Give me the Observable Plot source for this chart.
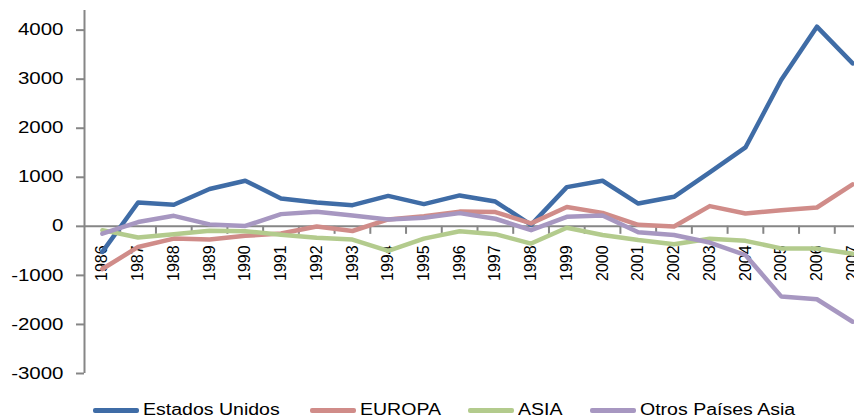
<!DOCTYPE html>
<html>
<head>
<meta charset="utf-8">
<script src="https://cdn.jsdelivr.net/npm/d3@7"></script>
<script src="https://cdn.jsdelivr.net/npm/@observablehq/plot@0.6"></script>
<style>
  html, body { margin: 0; padding: 0; background: #fff; overflow: hidden; }
  body { width: 854px; height: 418px; font-family: "Liberation Sans", Arial, sans-serif; }
  #chart svg { display: block; }
  #legend { position: relative; height: 18px; }
  .item { position: absolute; top: 0; height: 18px; }
  .sw { position: absolute; top: 8px; left: 0; width: 46px; height: 4.5px; border-radius: 2px; }
  .lbl { position: absolute; left: 50px; top: 1px; font-size: 16px; line-height: 18px; white-space: nowrap; color: #000; transform-origin: left center; transform: scaleX(1.22); }
</style>
</head>
<body>
<div id="chart"></div>
<div id="legend"></div>
<script>
const years = [1986, 1987, 1988, 1989, 1990, 1991, 1992, 1993, 1994, 1995, 1996,
               1997, 1998, 1999, 2000, 2001, 2002, 2003, 2004, 2005, 2006, 2007];
const seriesNames = ["Estados Unidos", "EUROPA", "ASIA", "Otros Países Asia"];
const estadosUnidos = [-520, 486, 439, 760, 930, 567, 486, 432, 620, 453, 630, 506, 30, 800, 929, 465, 602, 1098, 1608, 2983, 4071, 3322];
const europa = [-870, -420, -250, -270, -194, -146, -5, -95, 140, 205, 300, 290, 60, 395, 275, 31, -2, 412, 262, 330, 384, 855];
const asia = [-78, -228, -160, -92, -100, -170, -235, -270, -500, -250, -100, -160, -351, -30, -175, -280, -364, -255, -296, -450, -453, -560];
const otrosAsia = [-150, 88, 214, 40, 8, 249, 298, 220, 140, 175, 269, 155, -78, 194, 220, -120, -176, -330, -585, -1428, -1486, -1945];
const yTicks = [-3000, -2000, -1000, 0, 1000, 2000, 3000, 4000];

const seriesValues = [estadosUnidos, europa, asia, otrosAsia];
const seriesColors = ["#3F6CA6", "#D08C89", "#B3CB8D", "#A797C1"];

const rows = seriesNames.flatMap((name, s) =>
  years.map((year, i) => ({series: name, year, value: seriesValues[s][i]})));

const yMin = -3000, yMax = 4400;
const plotTop = 10, plotBottom = 373;
const xLeft = 84, xRight = 870;
const tickUnits = 8 * (yMax - yMin) / (plotBottom - plotTop);
const boundaries = years.map(y => y + 0.5);
const gray = "#868686";
const font = "Liberation Sans, Arial, sans-serif";

const chart = Plot.plot({
  width: 854,
  height: 400,
  marginLeft: xLeft,
  marginRight: 0,
  marginTop: plotTop,
  marginBottom: 400 - plotBottom,
  style: {fontFamily: font, fontSize: "16px", color: "#000", background: "#fff"},
  x: {type: "linear", domain: [years[0] - 0.5, years[years.length - 1] + 0.5], range: [xLeft, xRight], axis: null},
  y: {domain: [yMin, yMax], range: [plotBottom, plotTop], axis: null},
  color: {domain: seriesNames, range: seriesColors},
  marks: [
    Plot.ruleY([0], {stroke: gray, strokeWidth: 2}),
    Plot.ruleX(boundaries, {y1: 0, y2: -tickUnits, stroke: gray, strokeWidth: 2}),
    Plot.ruleX([years[0] - 0.5], {y1: yMin, y2: yMax, stroke: gray, strokeWidth: 2}),
    Plot.axisY(yTicks, {tickSize: 8, tickPadding: 13, stroke: gray, strokeWidth: 2, fontSize: 16, label: null, tickFormat: d => String(d)}),
    Plot.text(years, {x: d => d, y: 0, text: d => String(d), rotate: -90, textAnchor: "end", dy: 19, fontSize: 16, fill: "#000", ariaLabel: "x-labels"}),
    ...seriesNames.map(name =>
      Plot.line(rows.filter(r => r.series === name), {
        x: "year", y: "value", stroke: "series", strokeWidth: 4.5,
        strokeLinejoin: "round", strokeLinecap: "round"
      }))
  ]
});
document.getElementById("chart").appendChild(chart);

function stretch(sel, sx, sy) {
  chart.querySelectorAll(sel).forEach(t => {
    const tr = t.getAttribute("transform");
    if (tr) {
      t.setAttribute("transform", tr + ` scale(${sx},${sy})`);
    } else {
      const x = +t.getAttribute("x") || 0, y = +t.getAttribute("y") || 0;
      t.setAttribute("transform", `translate(${x},${y}) scale(${sx},${sy}) translate(${-x},${-y})`);
    }
  });
}
stretch('g[aria-label="y-axis tick label"] text', 1.28, 1);
stretch('g[aria-label="x-labels"] text', 1, 1.25);

// legend
const legendLeft = [93, 310, 468, 590];
const legend = d3.select("#legend");
seriesNames.forEach((name, i) => {
  const item = legend.append("div").attr("class", "item").style("left", legendLeft[i] + "px");
  item.append("div").attr("class", "sw").style("background", seriesColors[i]);
  item.append("div").attr("class", "lbl").text(name);
});
</script>
</body>
</html>
